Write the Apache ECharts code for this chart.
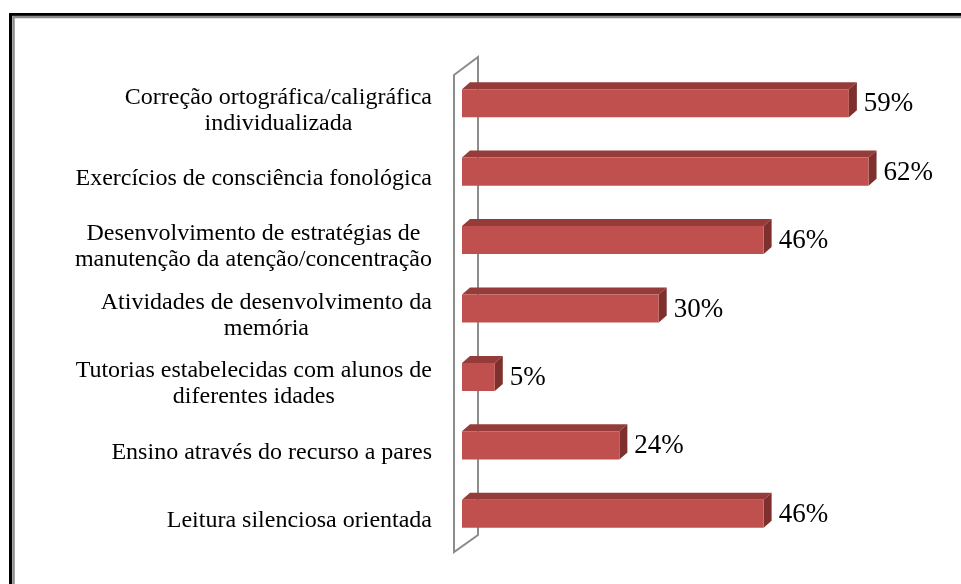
<!DOCTYPE html>
<html>
<head>
<meta charset="utf-8">
<script src="https://cdn.jsdelivr.net/npm/echarts@6/dist/echarts.min.js"></script>
<style>
html,body{margin:0;padding:0;background:#fff;}
#chart{width:961px;height:584px;}
</style>
</head>
<body>
<div id="chart"></div>
<script>
const categories = [
  "Correção ortográfica/caligráfica\nindividualizada",
  "Exercícios de consciência fonológica",
  "Desenvolvimento de estratégias de\nmanutenção da atenção/concentração",
  "Atividades de desenvolvimento da\nmemória",
  "Tutorias estabelecidas com alunos de\ndiferentes idades",
  "Ensino através do recurso a pares",
  "Leitura silenciosa orientada"
];
const values = [59, 62, 46, 30, 5, 24, 46];

const FRONT = '#C0504D', TOP = '#953C3A', SIDE = '#7E302E';
const DX = 8, DY = 7;
const SERIF = 'serif';

const chart = echarts.init(document.getElementById('chart'), null, {renderer: 'canvas'});
chart.setOption({
  backgroundColor: '#fff',
  animation: false,
  textStyle: {fontFamily: SERIF},
  graphic: [
    {type: 'rect', shape: {x: 10.5, y: 14.5, width: 1000, height: 1000}, style: {fill: 'none', stroke: '#000', lineWidth: 3}, z: 100},
    {type: 'rect', shape: {x: 13.5, y: 17, width: 1000, height: 1000}, style: {fill: 'none', stroke: '#8c8c8c', lineWidth: 2.5}, z: 100}
  ],
  grid: {left: 462, top: 69, width: 459, height: 479, containLabel: false},
  xAxis: {type: 'value', min: 0, max: 70, show: false},
  yAxis: {
    type: 'category', data: categories, inverse: true,
    axisLine: {show: false}, axisTick: {show: false}, splitLine: {show: false},
    axisLabel: {
      margin: 30,
      fontFamily: SERIF, fontSize: 24, color: '#000',
      formatter: function (val) { return val.split('\n').map(s => '{c|' + s + '}').join('\n'); },
      padding: [14, 0, 0, 0],
      rich: {c: {align: 'center', fontFamily: SERIF, fontSize: 24, color: '#000', lineHeight: 26}}
    }
  },
  series: [
    {
      type: 'custom',
      data: [[0, 0]],
      silent: true,
      z: 1,
      renderItem: function (params, api) {
        const cs = params.coordSys;
        const l = cs.x, t = cs.y, b = cs.y + cs.height;
        return {
          type: 'polygon',
          shape: {points: [[l - 8, t + 6], [l + 16, t - 12], [l + 16, b - 13], [l - 8, b + 4]]},
          style: {fill: 'none', stroke: '#8c8c8c', lineWidth: 2}
        };
      }
    },
    {
      type: 'custom',
      data: values.map((v, i) => [v, i]),
      encode: {x: 0, y: 1},
      z: 2,
      renderItem: function (params, api) {
        const v = api.value(0), c = api.value(1);
        const p0 = api.coord([0, c]);
        const p1 = api.coord([v, c]);
        const band = api.size([0, 1])[1];
        const h = band * 0.41;
        const x0 = p0[0], x1 = p1[0], yc = p0[1];
        const yt = yc - h / 2, yb = yc + h / 2;
        return {
          type: 'group',
          children: [
            {type: 'polygon', shape: {points: [[x0, yt], [x0 + DX, yt - DY], [x1 + DX, yt - DY], [x1, yt]]}, style: {fill: TOP}},
            {type: 'polygon', shape: {points: [[x1, yt], [x1 + DX, yt - DY], [x1 + DX, yb - DY], [x1, yb]]}, style: {fill: SIDE}},
            {type: 'rect', shape: {x: x0, y: yt, width: x1 - x0, height: h}, style: {fill: FRONT}},
            {type: 'text', x: x1 + DX + 7, y: yc + 1, style: {text: v + '%', fontFamily: SERIF, fontSize: 27, fill: '#000', verticalAlign: 'middle', align: 'left'}}
          ]
        };
      }
    }
  ]
});
</script>
</body>
</html>
